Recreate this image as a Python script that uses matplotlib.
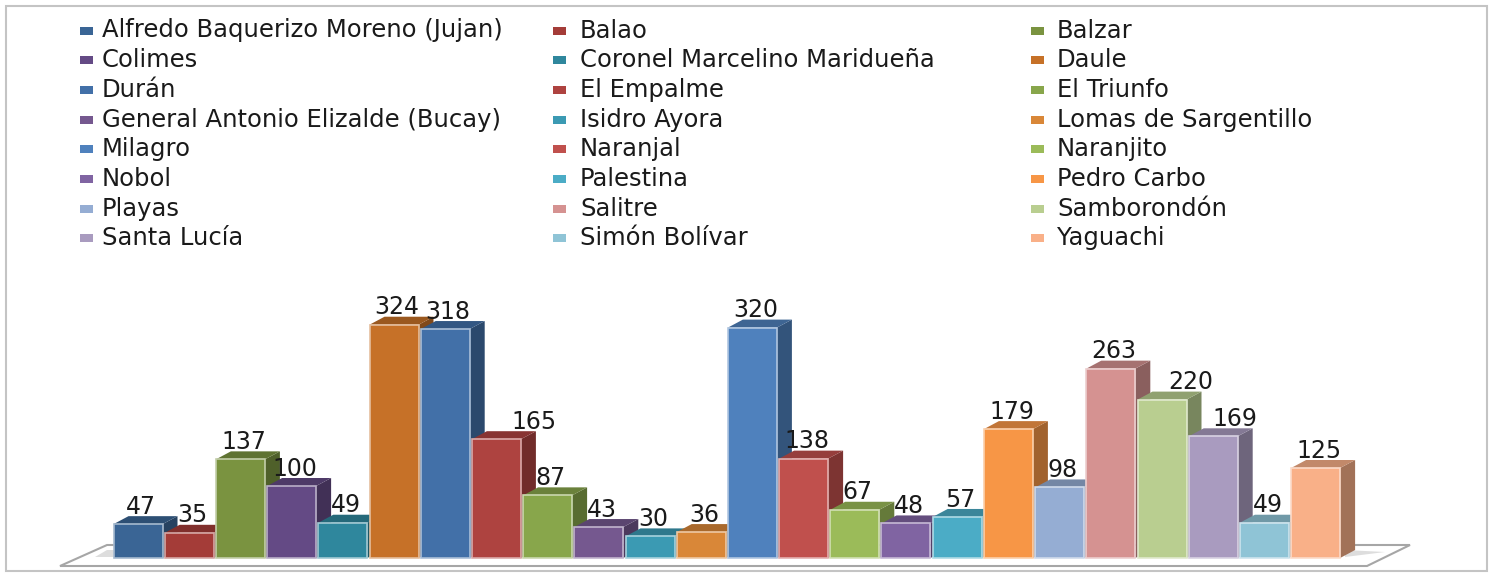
import matplotlib
matplotlib.use('Agg')
import matplotlib.pyplot as plt
from matplotlib.patches import Polygon, Rectangle
from matplotlib.transforms import Affine2D
from matplotlib.colors import to_rgb

cantones = ["Alfredo Baquerizo Moreno (Jujan)", "Balao", "Balzar",
            "Colimes", "Coronel Marcelino Maridueña", "Daule",
            "Durán", "El Empalme", "El Triunfo",
            "General Antonio Elizalde (Bucay)", "Isidro Ayora", "Lomas de Sargentillo",
            "Milagro", "Naranjal", "Naranjito",
            "Nobol", "Palestina", "Pedro Carbo",
            "Playas", "Salitre", "Samborondón",
            "Santa Lucía", "Simón Bolívar", "Yaguachi"]
valores = [47, 35, 137, 100, 49, 324, 318, 165, 87, 43, 30, 36,
           320, 138, 67, 48, 57, 179, 98, 263, 220, 169, 49, 125]
colores = ["#3A6595", "#A43C38", "#7A9340", "#644A85", "#2F879D", "#C67128",
           "#4270A8", "#AE4340", "#88A64B", "#75588F", "#3B9AB3", "#D98738",
           "#4F81BD", "#C0504D", "#9BBB59", "#8064A2", "#4BACC6", "#F79646",
           "#95ADD3", "#D59291", "#B9CE90", "#A99BBF", "#8FC4D6", "#F9B088"]

W, H = 1491, 575
PITCH = 51.2      # px por barra
X0 = 138          # centro da primeira barra
Y0 = 558          # base das barras
ESCALA = 0.72     # px por unidade
ANCHO = 49 / PITCH
DX = 15 / PITCH
DY = 8 / ESCALA
# rotulos deslocados para a direita no original (px)
desvio_rotulo = {7: 35, 20: 26, 21: 19}


def escurece(c, f):
    return tuple(v * f for v in to_rgb(c))


def clareia(c, f):
    return tuple(v + (1 - v) * f for v in to_rgb(c))


fig = plt.figure(figsize=(W / 100, H / 100), dpi=100)
ax = fig.add_axes([0, 0, 1, 1])
ax.set_xlim(-X0 / PITCH, (W - X0) / PITCH)
ax.set_ylim((Y0 - H) / ESCALA, Y0 / ESCALA)
ax.axis('off')

# coordenadas em pixels da imagem (y para baixo)
px = Affine2D().scale(1, -1).translate(0, H)

# moldura e piso
ax.add_patch(Rectangle((5.5, 5.5), 1481, 565, transform=px, fill=False,
                       ec="#C4C4C4", lw=1.5, zorder=0))
ax.add_patch(Polygon([(60, 566), (1367, 566), (1410, 545), (107, 545)], transform=px,
                     fc="white", ec="#A6A6A6", lw=1.5, zorder=1))
ax.add_patch(Polygon([(95, 557), (107, 550), (115, 550), (115, 557)], transform=px,
                     fc="#DDDDDD", ec="none", zorder=1))
ax.add_patch(Polygon([(1345, 557), (1385, 552), (1345, 550)], transform=px,
                     fc="#DDDDDD", ec="none", zorder=1))

# barras, da esquerda para a direita
for i, v in enumerate(valores):
    c = colores[i]
    x1 = i + ANCHO / 2
    x0 = i - ANCHO / 2
    z = 2 + i
    ax.add_patch(Polygon([(x1, 0), (x1 + DX, DY), (x1 + DX, v + DY), (x1, v)],
                         fc=escurece(c, 0.65), ec="none", zorder=z))
    ax.add_patch(Polygon([(x0, v), (x0 + DX, v + DY), (x1 + DX, v + DY), (x1, v)],
                         fc=escurece(c, 0.78), ec="none", zorder=z))
    ax.bar(i, v, width=ANCHO, color=c, ec=clareia(c, 0.55), lw=1.2, zorder=z)

for i, v in enumerate(valores):
    dx_px = 3 + desvio_rotulo.get(i, 0)
    ax.annotate(str(v), (i, v), xytext=(dx_px * 0.72, 12.5), textcoords='offset points',
                ha='center', va='center', fontsize=17, color="#1A1A1A", zorder=40)

# legenda em tres colunas
col_x = [80, 553, 1031]
texto_x = [102, 580, 1057]
for i, nome in enumerate(cantones):
    x = col_x[i % 3]
    y = 30.5 + (i // 3) * 29.7
    ax.add_patch(Rectangle((x, y - 4), 13, 8, transform=px, fc=colores[i], ec="none", zorder=40))
    ax.text(texto_x[i % 3], y, nome, transform=px, ha='left', va='center',
            fontsize=17.5, color="#1A1A1A", zorder=40)

fig.savefig("out.png", dpi=100)
